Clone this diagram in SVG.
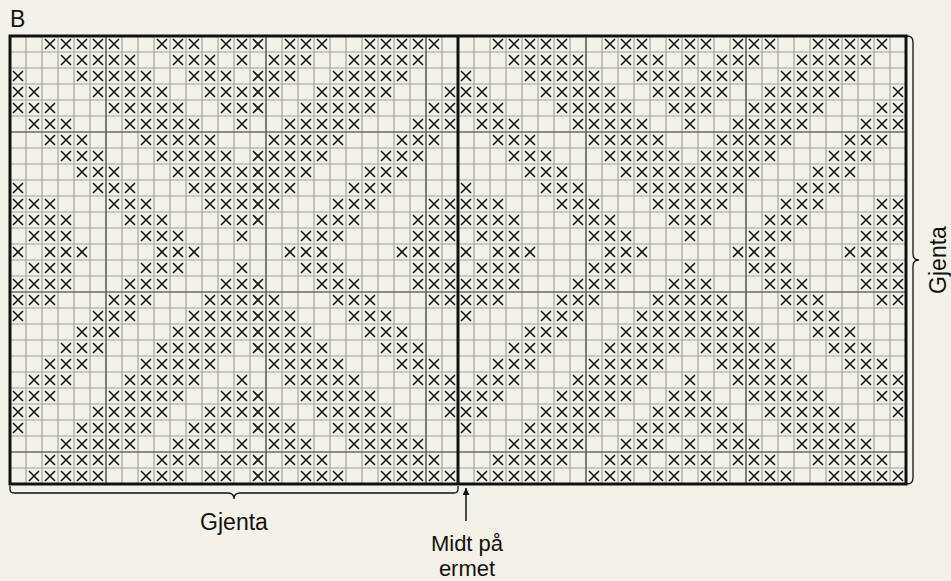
<svg xmlns="http://www.w3.org/2000/svg" xmlns:xlink="http://www.w3.org/1999/xlink" width="951" height="581" viewBox="0 0 951 581">
<style>
.minor{fill:none;stroke:#a2a2a2;stroke-width:1.2}
.major{fill:none;stroke:#6c6c6c;stroke-width:1.6}
.border{fill:none;stroke:#111;stroke-width:3}
.brace{fill:none;stroke:#111;stroke-width:1.3}
.arrow{fill:none;stroke:#111;stroke-width:1.5}
.lbl{font-family:"Liberation Sans",Arial,Helvetica,sans-serif;font-size:23px;fill:#111}
.sm{font-size:22px}
</style>
<defs>
<path id="x" d="M3 3L13 13M13 3L3 13" fill="none" stroke="#111" stroke-width="1.6"/>
<marker id="ah" viewBox="0 0 10 10" refX="10" refY="5" markerWidth="7" markerHeight="7" markerUnits="userSpaceOnUse" orient="auto"><path d="M0 0L10 5L0 10Z" fill="#111"/></marker>
<g id="r0"><use href="#x" x="32"/><use href="#x" x="48"/><use href="#x" x="64"/><use href="#x" x="80"/><use href="#x" x="96"/><use href="#x" x="144"/><use href="#x" x="160"/><use href="#x" x="176"/><use href="#x" x="208"/><use href="#x" x="224"/><use href="#x" x="240"/><use href="#x" x="272"/><use href="#x" x="288"/><use href="#x" x="304"/><use href="#x" x="352"/><use href="#x" x="368"/><use href="#x" x="384"/><use href="#x" x="400"/><use href="#x" x="416"/></g>
<g id="r1"><use href="#x" x="48"/><use href="#x" x="64"/><use href="#x" x="80"/><use href="#x" x="96"/><use href="#x" x="112"/><use href="#x" x="160"/><use href="#x" x="176"/><use href="#x" x="192"/><use href="#x" x="224"/><use href="#x" x="256"/><use href="#x" x="272"/><use href="#x" x="288"/><use href="#x" x="336"/><use href="#x" x="352"/><use href="#x" x="368"/><use href="#x" x="384"/><use href="#x" x="400"/></g>
<g id="r2"><use href="#x" x="0"/><use href="#x" x="64"/><use href="#x" x="80"/><use href="#x" x="96"/><use href="#x" x="112"/><use href="#x" x="128"/><use href="#x" x="176"/><use href="#x" x="192"/><use href="#x" x="208"/><use href="#x" x="240"/><use href="#x" x="256"/><use href="#x" x="272"/><use href="#x" x="320"/><use href="#x" x="336"/><use href="#x" x="352"/><use href="#x" x="368"/><use href="#x" x="384"/></g>
<g id="r3"><use href="#x" x="0"/><use href="#x" x="16"/><use href="#x" x="80"/><use href="#x" x="96"/><use href="#x" x="112"/><use href="#x" x="128"/><use href="#x" x="144"/><use href="#x" x="192"/><use href="#x" x="208"/><use href="#x" x="224"/><use href="#x" x="240"/><use href="#x" x="256"/><use href="#x" x="304"/><use href="#x" x="320"/><use href="#x" x="336"/><use href="#x" x="352"/><use href="#x" x="368"/><use href="#x" x="432"/></g>
<g id="r4"><use href="#x" x="0"/><use href="#x" x="16"/><use href="#x" x="32"/><use href="#x" x="96"/><use href="#x" x="112"/><use href="#x" x="128"/><use href="#x" x="144"/><use href="#x" x="160"/><use href="#x" x="208"/><use href="#x" x="224"/><use href="#x" x="240"/><use href="#x" x="288"/><use href="#x" x="304"/><use href="#x" x="320"/><use href="#x" x="336"/><use href="#x" x="352"/><use href="#x" x="416"/><use href="#x" x="432"/></g>
<g id="r5"><use href="#x" x="16"/><use href="#x" x="32"/><use href="#x" x="48"/><use href="#x" x="112"/><use href="#x" x="128"/><use href="#x" x="144"/><use href="#x" x="160"/><use href="#x" x="176"/><use href="#x" x="224"/><use href="#x" x="272"/><use href="#x" x="288"/><use href="#x" x="304"/><use href="#x" x="320"/><use href="#x" x="336"/><use href="#x" x="400"/><use href="#x" x="416"/><use href="#x" x="432"/></g>
<g id="r6"><use href="#x" x="32"/><use href="#x" x="48"/><use href="#x" x="64"/><use href="#x" x="128"/><use href="#x" x="144"/><use href="#x" x="160"/><use href="#x" x="176"/><use href="#x" x="192"/><use href="#x" x="256"/><use href="#x" x="272"/><use href="#x" x="288"/><use href="#x" x="304"/><use href="#x" x="320"/><use href="#x" x="384"/><use href="#x" x="400"/><use href="#x" x="416"/></g>
<g id="r7"><use href="#x" x="48"/><use href="#x" x="64"/><use href="#x" x="80"/><use href="#x" x="144"/><use href="#x" x="160"/><use href="#x" x="176"/><use href="#x" x="192"/><use href="#x" x="208"/><use href="#x" x="240"/><use href="#x" x="256"/><use href="#x" x="272"/><use href="#x" x="288"/><use href="#x" x="304"/><use href="#x" x="368"/><use href="#x" x="384"/><use href="#x" x="400"/></g>
<g id="r8"><use href="#x" x="64"/><use href="#x" x="80"/><use href="#x" x="96"/><use href="#x" x="160"/><use href="#x" x="176"/><use href="#x" x="192"/><use href="#x" x="208"/><use href="#x" x="224"/><use href="#x" x="240"/><use href="#x" x="256"/><use href="#x" x="272"/><use href="#x" x="288"/><use href="#x" x="352"/><use href="#x" x="368"/><use href="#x" x="384"/></g>
<g id="r9"><use href="#x" x="0"/><use href="#x" x="80"/><use href="#x" x="96"/><use href="#x" x="112"/><use href="#x" x="176"/><use href="#x" x="192"/><use href="#x" x="208"/><use href="#x" x="224"/><use href="#x" x="240"/><use href="#x" x="256"/><use href="#x" x="272"/><use href="#x" x="336"/><use href="#x" x="352"/><use href="#x" x="368"/></g>
<g id="r10"><use href="#x" x="0"/><use href="#x" x="16"/><use href="#x" x="32"/><use href="#x" x="96"/><use href="#x" x="112"/><use href="#x" x="128"/><use href="#x" x="192"/><use href="#x" x="208"/><use href="#x" x="224"/><use href="#x" x="240"/><use href="#x" x="256"/><use href="#x" x="320"/><use href="#x" x="336"/><use href="#x" x="352"/><use href="#x" x="416"/><use href="#x" x="432"/></g>
<g id="r11"><use href="#x" x="0"/><use href="#x" x="16"/><use href="#x" x="32"/><use href="#x" x="48"/><use href="#x" x="112"/><use href="#x" x="128"/><use href="#x" x="144"/><use href="#x" x="208"/><use href="#x" x="224"/><use href="#x" x="240"/><use href="#x" x="304"/><use href="#x" x="320"/><use href="#x" x="336"/><use href="#x" x="400"/><use href="#x" x="416"/><use href="#x" x="432"/></g>
<g id="r12"><use href="#x" x="16"/><use href="#x" x="32"/><use href="#x" x="48"/><use href="#x" x="128"/><use href="#x" x="144"/><use href="#x" x="160"/><use href="#x" x="224"/><use href="#x" x="288"/><use href="#x" x="304"/><use href="#x" x="320"/><use href="#x" x="400"/><use href="#x" x="416"/><use href="#x" x="432"/></g>
<g id="r13"><use href="#x" x="0"/><use href="#x" x="32"/><use href="#x" x="48"/><use href="#x" x="64"/><use href="#x" x="144"/><use href="#x" x="160"/><use href="#x" x="176"/><use href="#x" x="272"/><use href="#x" x="288"/><use href="#x" x="304"/><use href="#x" x="384"/><use href="#x" x="400"/><use href="#x" x="416"/></g>
<g id="r27"><use href="#x" x="16"/><use href="#x" x="32"/><use href="#x" x="48"/><use href="#x" x="64"/><use href="#x" x="80"/><use href="#x" x="128"/><use href="#x" x="144"/><use href="#x" x="160"/><use href="#x" x="192"/><use href="#x" x="208"/><use href="#x" x="240"/><use href="#x" x="256"/><use href="#x" x="288"/><use href="#x" x="304"/><use href="#x" x="320"/><use href="#x" x="368"/><use href="#x" x="384"/><use href="#x" x="400"/><use href="#x" x="416"/><use href="#x" x="432"/></g>
<g id="half">
<use href="#r0" x="10" y="36"/><use href="#r1" x="10" y="52"/><use href="#r2" x="10" y="68"/><use href="#r3" x="10" y="84"/><use href="#r4" x="10" y="100"/><use href="#r5" x="10" y="116"/><use href="#r6" x="10" y="132"/><use href="#r7" x="10" y="148"/><use href="#r8" x="10" y="164"/><use href="#r9" x="10" y="180"/><use href="#r10" x="10" y="196"/><use href="#r11" x="10" y="212"/><use href="#r12" x="10" y="228"/><use href="#r13" x="10" y="244"/><use href="#r12" x="10" y="260"/><use href="#r11" x="10" y="276"/><use href="#r10" x="10" y="292"/><use href="#r9" x="10" y="308"/><use href="#r8" x="10" y="324"/><use href="#r7" x="10" y="340"/><use href="#r6" x="10" y="356"/><use href="#r5" x="10" y="372"/><use href="#r4" x="10" y="388"/><use href="#r3" x="10" y="404"/><use href="#r2" x="10" y="420"/><use href="#r1" x="10" y="436"/><use href="#r0" x="10" y="452"/><use href="#r27" x="10" y="468"/>
</g>
</defs>
<rect width="951" height="581" fill="#f4f1e8"/>
<g id="chart">
<path class="minor" d="M26 36V484M42 36V484M58 36V484M74 36V484M90 36V484M106 36V484M122 36V484M138 36V484M154 36V484M170 36V484M186 36V484M202 36V484M218 36V484M234 36V484M250 36V484M266 36V484M282 36V484M298 36V484M314 36V484M330 36V484M346 36V484M362 36V484M378 36V484M394 36V484M410 36V484M426 36V484M442 36V484M474 36V484M490 36V484M506 36V484M522 36V484M538 36V484M554 36V484M570 36V484M586 36V484M602 36V484M618 36V484M634 36V484M650 36V484M666 36V484M682 36V484M698 36V484M714 36V484M730 36V484M746 36V484M762 36V484M778 36V484M794 36V484M810 36V484M826 36V484M842 36V484M858 36V484M874 36V484M890 36V484M10 52H906M10 68H906M10 84H906M10 100H906M10 116H906M10 148H906M10 164H906M10 180H906M10 196H906M10 212H906M10 228H906M10 244H906M10 260H906M10 276H906M10 308H906M10 324H906M10 340H906M10 356H906M10 372H906M10 388H906M10 404H906M10 420H906M10 436H906M10 468H906"/>
<path class="major" d="M106 36V484M266 36V484M426 36V484M586 36V484M746 36V484M10 132H906M10 292H906M10 452H906"/>
</g>
<g id="pattern-left"><use href="#half"/></g>
<g id="pattern-right"><use href="#half" x="448"/></g>
<g id="frame">
<rect class="border" x="10" y="36" width="896" height="448"/>
<path class="border" d="M458 36V484"/>
</g>
<g id="connectors">
<path id="brace-bottom" class="brace" d="M10 486V489Q10 493 14 493H228Q234 493 234 499Q234 493 240 493H454Q458 493 458 489V486"/>
<path id="brace-right" class="brace" d="M907 36Q913 36 913 42V254Q913 260 919 260Q913 260 913 266V478Q913 484 907 484"/>
<path id="arrow-mid" class="arrow" d="M466 521V488" marker-end="url(#ah)"/>
</g>
<g id="label-b"><text class="lbl" x="10" y="27">B</text></g>
<g id="label-gjenta-bottom"><text class="lbl" x="234" y="530" text-anchor="middle">Gjenta</text></g>
<g id="label-gjenta-right"><text class="lbl" transform="translate(946 260) rotate(-90)" text-anchor="middle">Gjenta</text></g>
<g id="label-midt"><text class="lbl sm" x="467" y="551" text-anchor="middle">Midt på</text><text class="lbl sm" x="467" y="576" text-anchor="middle">ermet</text></g>
</svg>
